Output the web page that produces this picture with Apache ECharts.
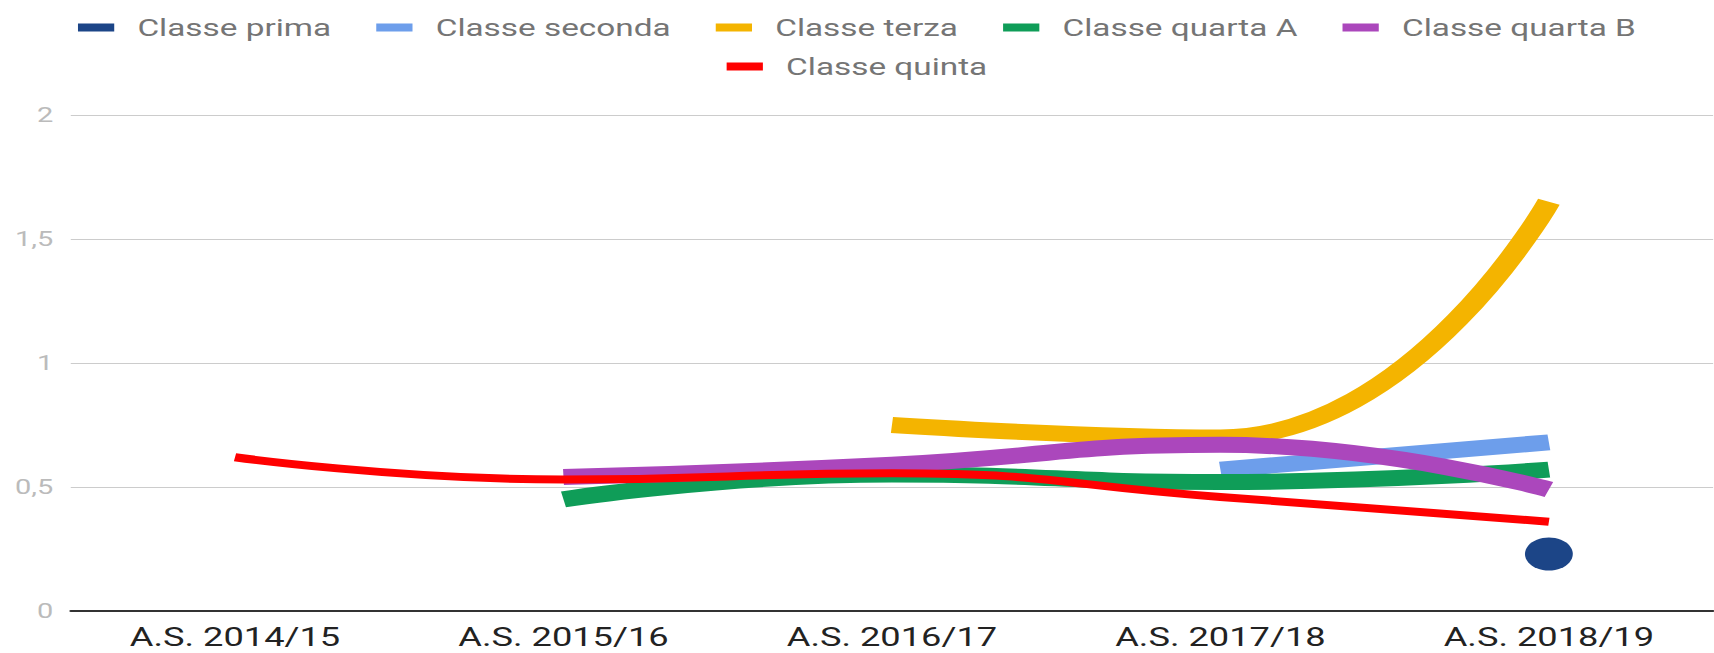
<!DOCTYPE html>
<html>
<head>
<meta charset="utf-8">
<script src="https://cdn.jsdelivr.net/npm/echarts@6/dist/echarts.min.js"></script>
<style>
  html, body { margin: 0; padding: 0; background: #ffffff; overflow: hidden; }
  #wrap { width: 1714px; height: 653px; overflow: hidden; }
  #chart { width: 1182px; height: 653px; transform: scaleX(1.45008); transform-origin: 0 0; }
</style>
</head>
<body>
<div id="wrap"><div id="chart"></div></div>
<script>
const categories = ['A.S. 2014/15', 'A.S. 2015/16', 'A.S. 2016/17', 'A.S. 2017/18', 'A.S. 2018/19'];
const yTickLabels = ['0', '0,5', '1', '1,5', '2'];
const seriesNames = ['Classe prima', 'Classe seconda', 'Classe terza', 'Classe quarta A', 'Classe quarta B', 'Classe quinta'];
const classePrima   = [null, null, null, null, 0.23];
const classeSeconda = [null, null, null, 0.57, 0.68];
const classeTerza   = [null, null, 0.75, 0.70, 1.65];
const classeQuartaA = [null, 0.45, 0.55, 0.52, 0.57];
const classeQuartaB = [null, 0.54, 0.59, 0.67, 0.49];
const classeQuinta  = [0.62, 0.53, 0.555, 0.46, 0.36];
const colors = ['#1c4587', '#6d9eeb', '#f4b400', '#0f9d58', '#ab47bc', '#ff0000'];
const widths = [16, 16, 16, 16, 16, 8];
const values = [classePrima, classeSeconda, classeTerza, classeQuartaA, classeQuartaB, classeQuinta];

const chart = echarts.init(document.getElementById('chart'), null, { renderer: 'svg' });

const legendBase = {
  icon: 'rect',
  itemWidth: 25,
  itemHeight: 8,
  itemGap: 31,
  left: 'center',
  selectedMode: false,
  textStyle: { fontFamily: 'Roboto', fontSize: 23, color: '#757575', lineHeight: 24, padding: [0, 0, 0, 11] }
};

const series = seriesNames.map((name, i) => {
  const s = {
    name: name,
    type: 'line',
    data: values[i],
    smooth: 0.5,
    color: colors[i],
    lineStyle: { color: colors[i], width: widths[i], cap: 'butt' },
    itemStyle: { color: colors[i] },
    emphasis: { disabled: true },
    animation: false,
    z: 2 + i
  };
  if (i === 0) {
    s.showSymbol = true;
    s.symbol = 'circle';
    s.symbolSize = 33;
    s.z = 10;
  } else {
    s.showSymbol = false;
    s.symbol = 'none';
  }
  return s;
});

chart.setOption({
  animation: false,
  backgroundColor: '#ffffff',
  legend: [
    Object.assign({}, legendBase, { top: 10.5, data: seriesNames.slice(0, 5) }),
    Object.assign({}, legendBase, { top: 49.5, data: seriesNames.slice(5) })
  ],
  grid: { left: 48.8, right: 0.6, top: 115, bottom: 42, containLabel: false },
  xAxis: {
    type: 'category',
    data: categories,
    boundaryGap: true,
    axisLine: { show: true, lineStyle: { color: '#333333', width: 2 } },
    axisTick: { show: false },
    axisLabel: { interval: 0, margin: 14, fontFamily: 'Roboto', fontSize: 25, color: '#222222' },
    splitLine: { show: false }
  },
  yAxis: {
    type: 'value',
    min: 0,
    max: 2,
    interval: 0.5,
    axisLine: { show: false },
    axisTick: { show: false },
    axisLabel: {
      margin: 12,
      fontFamily: 'Roboto',
      fontSize: 20,
      color: '#bbbbbb',
      formatter: v => yTickLabels[Math.round(v / 0.5)]
    },
    splitLine: { show: true, lineStyle: { color: '#cccccc', width: 1.2 } }
  },
  series: series
});
</script>
</body>
</html>
